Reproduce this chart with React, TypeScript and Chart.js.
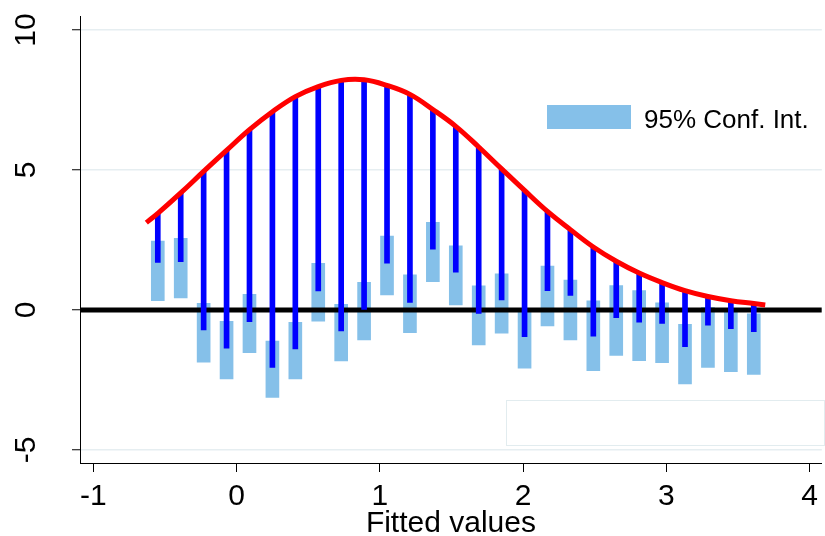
import React, { useEffect, useRef } from 'react';
import { Chart, registerables } from 'chart.js';

Chart.register(...registerables);

// ---- data ----
const xValues = [
  -0.55, -0.39, -0.23, -0.07, 0.09, 0.25, 0.41, 0.57, 0.73, 0.89, 1.05, 1.21, 1.37, 1.53,
  1.69, 1.85, 2.01, 2.17, 2.33, 2.49, 2.65, 2.81, 2.97, 3.13, 3.29, 3.45, 3.61,
];
const fitted = [
  3.45, 4.18, 4.95, 5.7, 6.44, 7.08, 7.62, 7.98, 8.2, 8.22, 8.02, 7.7, 7.16, 6.56,
  5.82, 5.04, 4.27, 3.52, 2.87, 2.25, 1.74, 1.32, 0.98, 0.69, 0.48, 0.33, 0.23,
];
const estimates = [
  1.7, 1.73, -0.71, -1.36, -0.42, -2.05, -1.39, 0.68, -0.75, 0.02, 1.67, 0.27, 2.17, 1.35,
  -0.12, 0.36, -0.95, 0.69, 0.52, -0.93, -0.27, -0.43, -0.48, -1.31, -0.54, -0.67, -0.77,
];
const ciHigh = [
  2.46, 2.56, 0.24, -0.4, 0.56, -1.11, -0.44, 1.67, 0.2, 0.99, 2.64, 1.26, 3.13, 2.29,
  0.86, 1.29, 0.02, 1.57, 1.07, 0.33, 0.87, 0.69, 0.26, -0.51, 0.1, -0.06, -0.14,
];
const ciLow = [
  0.33, 0.43, -1.86, -2.46, -1.52, -3.12, -2.46, -0.4, -1.82, -1.07, 0.54, -0.81, 1.01, 0.18,
  -1.25, -0.83, -2.08, -0.57, -1.07, -2.17, -1.62, -1.81, -1.88, -2.64, -2.05, -2.2, -2.3,
];
const curveX = [
  -0.63, -0.55, -0.39, -0.23, -0.07, 0.09, 0.25, 0.41, 0.57, 0.73, 0.89, 1.05, 1.21, 1.37, 1.53,
  1.69, 1.85, 2.01, 2.17, 2.33, 2.49, 2.65, 2.81, 2.97, 3.13, 3.29, 3.45, 3.61, 3.69,
];
const curveY = [
  3.12, 3.45, 4.18, 4.95, 5.7, 6.44, 7.08, 7.62, 7.98, 8.2, 8.22, 8.02, 7.7, 7.16, 6.56,
  5.82, 5.04, 4.27, 3.52, 2.87, 2.25, 1.74, 1.32, 0.98, 0.69, 0.48, 0.33, 0.23, 0.18,
];
const xTicks = [-1, 0, 1, 2, 3, 4];
const yTicks = [-5, 0, 5, 10];
const xMin = -1.093;
const xMax = 4.085;
const yMin = -5.464;
const yMax = 10.5;
const legendLabel = '95% Conf. Int.';
const xTitle = 'Fitted values';

const FONT = '"Liberation Sans", Arial, Helvetica, sans-serif';
const CI_COLOR = '#85c0e9';
const GRID_COLOR = '#e6eef1';

const decorPlugin = {
  id: 'stataDecor',
  afterDraw(chart: any) {
    const { ctx, chartArea, scales } = chart;
    const ys = scales.y;
    ctx.save();
    // rotated y tick labels
    ctx.fillStyle = '#000';
    ctx.font = `30px ${FONT}`;
    ctx.textAlign = 'center';
    ctx.textBaseline = 'alphabetic';
    for (const t of ys.ticks) {
      const py = ys.getPixelForValue(t.value);
      ctx.save();
      ctx.translate(chartArea.left - 45, py);
      ctx.rotate(-Math.PI / 2);
      ctx.fillText(String(t.value), 0, 0);
      ctx.restore();
    }
    // legend (inside plot region)
    const ciDs = chart.data.datasets[3];
    const lx = chartArea.left + 467;
    const ly = chartArea.top + 89;
    ctx.fillStyle = ciDs.backgroundColor;
    ctx.fillRect(lx, ly, 84, 24);
    ctx.fillStyle = '#000';
    ctx.font = `26px ${FONT}`;
    ctx.textAlign = 'left';
    ctx.textBaseline = 'alphabetic';
    ctx.fillText(ciDs.label, lx + 97, ly + 23);
    // empty frame lower right
    ctx.strokeStyle = '#e2ecef';
    ctx.lineWidth = 1;
    ctx.strokeRect(chartArea.left + 426.5, chartArea.top + 384.5, 318, 45);
    ctx.restore();
  },
};

export default function App() {
  const canvasRef = useRef<HTMLCanvasElement | null>(null);

  useEffect(() => {
    const canvas = canvasRef.current;
    if (!canvas) return;
    const chart = new Chart(canvas, {
      type: 'bar',
      data: {
        datasets: [
          {
            type: 'line',
            label: 'Fitted',
            data: curveX.map((x, i) => ({ x, y: curveY[i] })),
            borderColor: '#ff0000',
            borderWidth: 5,
            pointRadius: 0,
            tension: 0.4,
            fill: false,
            order: 0,
          } as any,
          {
            type: 'bar',
            label: 'Estimate',
            data: xValues.map((x, i) => ({ x, y: [estimates[i], fitted[i]] })),
            backgroundColor: '#0000ff',
            borderWidth: 0,
            barThickness: 5,
            grouped: false,
            order: 1,
          } as any,
          {
            type: 'line',
            label: 'Zero',
            data: [
              { x: xMin, y: 0 },
              { x: xMax, y: 0 },
            ],
            borderColor: '#000000',
            borderWidth: 5,
            pointRadius: 0,
            fill: false,
            order: 2,
          } as any,
          {
            type: 'bar',
            label: legendLabel,
            data: xValues.map((x, i) => ({ x, y: [ciLow[i], ciHigh[i]] })),
            backgroundColor: CI_COLOR,
            borderWidth: 0,
            barThickness: 13,
            grouped: false,
            order: 3,
          } as any,
        ],
      },
      options: {
        responsive: false,
        animation: false,
        devicePixelRatio: 1,
        events: [],
        layout: { padding: { top: 16, right: 0, left: 0, bottom: 0 } },
        plugins: {
          legend: { display: false },
          tooltip: { enabled: false },
          title: { display: false },
        },
        scales: {
          x: {
            type: 'linear',
            min: xMin,
            max: xMax,
            offset: false,
            afterBuildTicks: (s: any) => {
              s.ticks = xTicks.map((v) => ({ value: v }));
            },
            afterFit: (s: any) => {
              s.height = 73;
            },
            grid: {
              display: true,
              offset: false,
              drawOnChartArea: false,
              drawTicks: true,
              tickLength: 9,
              tickColor: '#000',
              tickWidth: 1,
            },
            border: { display: true, color: '#000', width: 1 },
            ticks: {
              color: '#000',
              font: { family: FONT, size: 30 },
              padding: 7,
              maxRotation: 0,
              minRotation: 0,
              callback: (v: any) => String(v),
            },
            title: {
              display: true,
              text: xTitle,
              color: '#000',
              font: { family: FONT, size: 30, lineHeight: 1 },
              padding: -3,
            },
          },
          y: {
            type: 'linear',
            min: yMin,
            max: yMax,
            afterBuildTicks: (s: any) => {
              s.ticks = yTicks.map((v) => ({ value: v }));
            },
            afterFit: (s: any) => {
              s.width = 80;
            },
            grid: {
              display: true,
              offset: false,
              color: GRID_COLOR,
              lineWidth: 1.5,
              drawOnChartArea: true,
              drawTicks: true,
              tickLength: 8,
              tickColor: '#000',
              tickWidth: 1,
            },
            border: { display: true, color: '#000', width: 1 },
            ticks: { display: false },
          },
        },
      },
      plugins: [decorPlugin],
    } as any);
    return () => chart.destroy();
  }, []);

  return (
    <div style={{ position: 'absolute', left: 0, top: 0, width: 825, height: 536, background: '#fff' }}>
      <canvas ref={canvasRef} width={825} height={536} style={{ display: 'block' }} />
    </div>
  );
}
